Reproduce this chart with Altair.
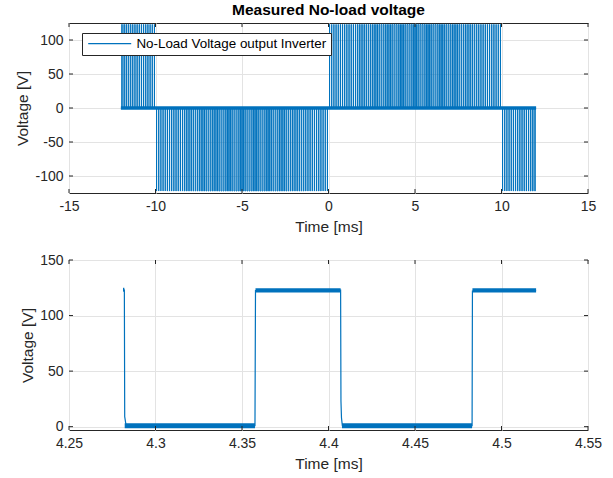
import altair as alt
import pandas as pd

# ---------------- data ----------------
SERIES = "No-Load Voltage output Inverter"
BLUE = "#0072BD"

# top panel: PWM measurement
carrier_period_ms = 0.125              # switching period
segment_edges_ms = [-12.0, -10.0, 0.0, 10.0, 12.0]
segment_level_v = [123.0, -122.0, 123.0, -122.0]
duty_grid_ms = [-12, -11, -10, -9, -8, -7, -6, -5, -4, -3, -2, -1, 0,
                1, 2, 3, 4, 5, 6, 7, 8, 9, 10, 11, 12]
duty_values = [0.24, 0.13, 0.04, 0.13, 0.24, 0.33, 0.39, 0.41, 0.39, 0.33, 0.24, 0.13, 0.04,
               0.13, 0.24, 0.33, 0.39, 0.41, 0.39, 0.33, 0.24, 0.13, 0.04, 0.13, 0.24]
top_noise_x = [-12.0]
top_noise_x2 = [12.0]
top_noise_y = [-2.5]
top_noise_y2 = [2.5]

# bottom panel: zoomed measurement
zoom_t_ms = [4.2815, 4.2820, 4.2822, 4.2830, 4.3575, 4.3578, 4.4070, 4.4072, 4.4075,
             4.4080, 4.4830, 4.4832, 4.5200]
zoom_v = [123.5, 123.0, 9.0, 1.0, 1.0, 122.5, 123.0, 23.0, 8.0, 1.0, 1.0, 122.0, 122.5]
band_x = [4.2812, 4.2822, 4.3578, 4.4078, 4.4832]
band_x2 = [4.2820, 4.3575, 4.4070, 4.4830, 4.5200]
band_y = [121.5, -1.5, 120.8, -1.5, 120.8]
band_y2 = [125.0, 3.0, 124.5, 3.0, 124.5]

x_top_ticks = [-15, -10, -5, 0, 5, 10, 15]
y_top_ticks = [-100, -50, 0, 50, 100]
x_bot_ticks = [4.25, 4.3, 4.35, 4.4, 4.45, 4.5, 4.55]
y_bot_ticks = [0, 50, 100, 150]

# ---------------- build tables ----------------
rows = []
n_periods = int(round((segment_edges_ms[-1] - segment_edges_ms[0]) / carrier_period_ms))
for k in range(n_periods):
    t0 = segment_edges_ms[0] + k * carrier_period_ms
    seg = 0
    while seg < len(segment_level_v) - 1 and t0 >= segment_edges_ms[seg + 1]:
        seg += 1
    level = segment_level_v[seg]
    idx = min(range(len(duty_grid_ms)), key=lambda i: abs(duty_grid_ms[i] - t0))
    d = duty_values[idx]
    rise = t0 + (1 - d) / 2 * carrier_period_ms
    fall = t0 + (1 + d) / 2 * carrier_period_ms
    rows += [(t0, 0.0), (rise, 0.0), (rise, level), (fall, level), (fall, 0.0)]
rows.append((segment_edges_ms[-1], 0.0))
top_df = pd.DataFrame(rows, columns=["t", "v"])
top_df["series"] = SERIES
top_df["order"] = range(len(top_df))

top_noise_df = pd.DataFrame({"x": top_noise_x, "x2": top_noise_x2, "y": top_noise_y, "y2": top_noise_y2})
bot_df = pd.DataFrame({"t": zoom_t_ms, "v": zoom_v})
bot_df["order"] = range(len(bot_df))
band_df = pd.DataFrame({"x": band_x, "x2": band_x2, "y": band_y, "y2": band_y2})

FONT = "Liberation Sans"
TXT = "#262626"

W, H = 519, 170
TK = 4  # inward tick length in px
LBL = "datum.value + ''"


def inward_ticks(xenc, yenc, xvals, yvals):
    xdf = pd.DataFrame({"t": xvals})
    ydf = pd.DataFrame({"v": yvals})
    base_x = alt.Chart(xdf).mark_rule(color=TXT, strokeWidth=1)
    base_y = alt.Chart(ydf).mark_rule(color=TXT, strokeWidth=1)
    return [
        base_x.encode(x=xenc, y=alt.value(H - TK), y2=alt.value(H)),
        base_x.encode(x=xenc, y=alt.value(0), y2=alt.value(TK)),
        base_y.encode(y=yenc, x=alt.value(0), x2=alt.value(TK)),
        base_y.encode(y=yenc, x=alt.value(W - TK), x2=alt.value(W)),
    ]


top_xscale = alt.Scale(domain=[-15, 15], nice=False, zero=False)
top_yscale = alt.Scale(domain=[-125, 125], nice=False, zero=False)
xt = alt.X("t:Q", title="Time [ms]", scale=top_xscale,
           axis=alt.Axis(values=x_top_ticks, labelExpr=LBL))
yt = alt.Y("v:Q", title="Voltage [V]", scale=top_yscale,
           axis=alt.Axis(values=y_top_ticks, labelExpr=LBL))

top_line = alt.Chart(top_df).mark_line(strokeWidth=1, clip=True).encode(
    x=xt, y=yt, order="order:Q",
    color=alt.Color("series:N", scale=alt.Scale(domain=[SERIES], range=[BLUE]),
                    legend=alt.Legend(title=None, orient="none", legendX=13, legendY=10,
                                      symbolType="M-4.3,0H4.3", symbolSize=100,
                                      symbolStrokeWidth=1.3, symbolOffset=17,
                                      labelOffset=20, labelLimit=0,
                                      strokeColor=TXT, fillColor="white", padding=4,
                                      labelFontSize=13.4, labelColor="black", labelFont=FONT)),
)
top_band = alt.Chart(top_noise_df).mark_rect(color=BLUE, clip=True).encode(
    x=alt.X("x:Q", scale=top_xscale), x2="x2:Q",
    y=alt.Y("y:Q", scale=top_yscale), y2="y2:Q")

top = alt.layer(top_band, top_line, *inward_ticks(xt, yt, x_top_ticks, y_top_ticks)).properties(
    width=W, height=H,
    title=alt.TitleParams("Measured No-load voltage", fontSize=15.5, fontWeight="bold",
                          font=FONT, color="black", offset=4, anchor="middle"))

bot_xscale = alt.Scale(domain=[4.25, 4.55], nice=False, zero=False)
bot_yscale = alt.Scale(domain=[-3, 150], nice=False, zero=False)
xb = alt.X("t:Q", title="Time [ms]", scale=bot_xscale,
           axis=alt.Axis(values=x_bot_ticks, labelExpr=LBL))
yb = alt.Y("v:Q", title="Voltage [V]", scale=bot_yscale,
           axis=alt.Axis(values=y_bot_ticks, labelExpr=LBL))

bot_line = alt.Chart(bot_df).mark_line(strokeWidth=1.2, color=BLUE, clip=True).encode(
    x=xb, y=yb, order="order:Q")
bot_band = alt.Chart(band_df).mark_rect(color=BLUE, clip=True).encode(
    x=alt.X("x:Q", scale=bot_xscale), x2="x2:Q",
    y=alt.Y("y:Q", scale=bot_yscale), y2="y2:Q")
bottom = alt.layer(bot_band, bot_line, *inward_ticks(xb, yb, x_bot_ticks, y_bot_ticks)).properties(
    width=W, height=H)

chart = alt.vconcat(top, bottom, spacing=67, bounds="flush").resolve_scale(
    x="independent", y="independent"
).properties(
    padding={"left": 15, "top": 2, "right": 5, "bottom": 5},
).configure_view(
    stroke=TXT, strokeWidth=1
).configure_axis(
    domain=False, ticks=False, grid=True, gridColor="#E3E3E3", gridWidth=1,
    labelFont=FONT, labelFontSize=14, labelColor=TXT, labelPadding=6, labelFlush=False,
    titleFont=FONT, titleFontSize=15.5, titleFontWeight="normal", titleColor=TXT,
).configure_axisX(titlePadding=6).configure_axisY(titlePadding=4)

chart.save("out.html", embed_options={"renderer": "svg", "actions": False})
